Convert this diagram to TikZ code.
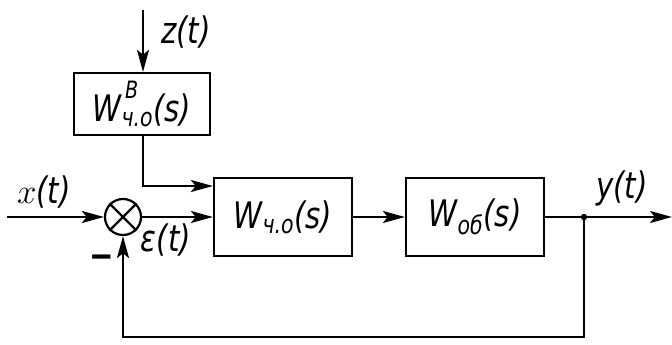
\documentclass[tikz,border=0pt]{standalone}
\usepackage{fontspec}
\setmainfont{DejaVu Sans}[FakeStretch=0.8]
\usetikzlibrary{arrows.meta}
\begin{document}
\begin{tikzpicture}[
    blok/.style={draw, line width=0.055cm, minimum width=3.45cm, minimum height=1.95cm,
                 font=\fontsize{26}{30}\selectfont\itshape},
    signal/.style={font=\fontsize{26}{30}\selectfont\itshape},
    line/.style={line width=0.055cm},
    arr/.style={line width=0.055cm, -{Stealth[length=0.55cm,width=0.3cm,inset=0.12cm]}}
  ]
  \useasboundingbox (0,0) rectangle (16.8,8.6);
  {
  % Marking block of disturbance channel
  \node [blok, minimum width=3.4cm, minimum height=1.55cm] (wv) at (3.55,6.0)
        {W\rlap{\kern0.1em\raisebox{0.62em}{\fontsize{17}{17}\selectfont В}}\textsubscript{ч.о}(s)};%

  % Marking summing point
  \node [draw, circle, line width=0.055cm, minimum size=0.9cm, inner sep=0pt] (sum) at (3.075,3.175) {};%
  \draw [line] (sum.45) -- (sum.225) (sum.135) -- (sum.315);%

  % Marking block of controlled channel
  \node [blok] (wch) at (7.075,3.175) {W\textsubscript{ч.о}(s)};%

  % Marking block of plant
  \node [blok] (wob) at (11.875,3.175) {W\textsubscript{об}(s)};%

  % Marking free ends and branch point
  \coordinate (zin) at (3.575,8.35);%
  \coordinate (xin) at (0.175,3.175);%
  \coordinate (yout) at (16.8,3.175);%
  \coordinate (br) at (14.6,3.175);%
  \fill (br) circle (0.08);%

  % Drawing input and disturbance
  \draw [arr] (zin) -- (zin |- wv.north);%
  \draw [arr] (xin) -- (sum.west);%

  % Drawing forward path
  \draw [arr] (wv.south -| zin) |- ([yshift=0.775cm]wch.west);%
  \draw [arr] (sum.east) -- (wch.west);%
  \draw [arr] (wch.east) -- (wob.west);%
  \draw [line] (wob.east) -- (br);%
  \draw [arr] (br) -- (yout);%

  % Drawing feedback
  \draw [arr] (br) -- ++(0,-3.0) -| (sum.south);%

  % Marking signals
  \node [signal] (zlab) at (4.65,7.8) {z(t)};%
  \node [signal] (xlab) at (1.1,3.8) {{\fontsize{32}{32}\selectfont$x$}(t)};%
  \node [signal] (elab) at (4.15,2.6) {ε(t)};%
  \node [signal] (ylab) at (15.55,3.9) {y(t)};%
  \node [signal] (minus) at (2.55,2.05) {\textbf{−}};%
  }
\end{tikzpicture}
\end{document}
